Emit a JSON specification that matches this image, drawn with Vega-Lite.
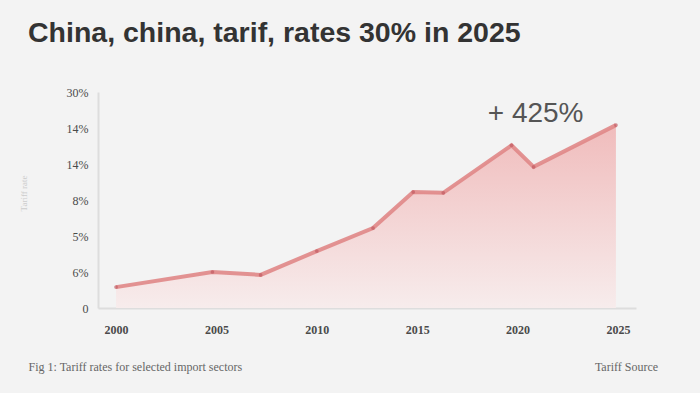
{
  "$schema": "https://vega.github.io/schema/vega-lite/v6.json",
  "width": 538,
  "height": 216,
  "autosize": {"type": "none"},
  "padding": {"left": 98, "top": 92, "right": 64, "bottom": 85},
  "background": "#f3f3f3",
  "title": {
    "text": "China, china, tarif, rates 30% in 2025",
    "anchor": "start",
    "frame": "group",
    "dx": -70,
    "offset": 39,
    "font": "Liberation Sans",
    "fontSize": 28.5,
    "fontWeight": "bold",
    "color": "#333333"
  },
  "config": {
    "view": {"stroke": null},
    "axis": {"grid": false, "ticks": false, "domainColor": "#dddddd", "domainWidth": 2, "labelFont": "Liberation Serif", "labelFontSize": 12, "labelColor": "#4a4a4a", "labelOverlap": false}
  },
  "datasets": {
    "rates": [
      {"year": 2000.0, "rate": 2.9},
      {"year": 2004.8, "rate": 5.0},
      {"year": 2007.2, "rate": 4.6},
      {"year": 2010.0, "rate": 7.9},
      {"year": 2012.8, "rate": 11.1},
      {"year": 2014.8, "rate": 16.1},
      {"year": 2016.3, "rate": 16.0},
      {"year": 2019.7, "rate": 22.6},
      {"year": 2020.8, "rate": 19.6},
      {"year": 2024.9, "rate": 25.4}
    ],
    "notes": [
      {"year": 2020.9, "rate": 27.0, "label": "+ 425%"}
    ]
  },
  "layer": [
    {
      "encoding": {
        "x": {"field": "year", "type": "quantitative", "scale": {"domain": [1999.1, 2025.9], "nice": false, "zero": false},
              "axis": {"values": [2000, 2005, 2010, 2015, 2020, 2025], "format": "d", "labelPadding": 16, "labelOverlap": false, "labelFontWeight": "bold",
                       "title": "Fig 1: Tariff rates for selected import sectors", "titleAnchor": null, "titleAlign": "left", "titleBaseline": "middle",
                       "titleX": -70, "titleY": 58, "titleFont": "Liberation Serif", "titleFontSize": 12, "titleFontWeight": "normal", "titleColor": "#666666"}},
        "y": {"field": "rate", "type": "quantitative", "scale": {"domain": [0, 30], "nice": false},
              "axis": {"values": [0, 5, 10, 15, 20, 25, 30], "labelPadding": 10, "labelOverlap": false,
                       "labelExpr": "datum.value == 0 ? '0' : datum.value == 5 ? '6%' : datum.value == 10 ? '5%' : datum.value == 15 ? '8%' : datum.value == 20 ? '14%' : datum.value == 25 ? '14%' : '30%'",
                       "title": "Tariff rate", "titleX": -70, "titleY": 101, "titleAlign": "center", "titleFont": "Liberation Serif", "titleFontSize": 9, "titleFontWeight": "normal", "titleColor": "#cccccc"}}
      },
      "layer": [
        {
          "data": {"name": "rates"},
          "mark": {
            "type": "area",
            "color": {
              "gradient": "linear", "x1": 0, "y1": 0, "x2": 0, "y2": 1,
              "stops": [{"offset": 0, "color": "#f0bcbc"}, {"offset": 1, "color": "#f7ecec"}]
            }
          }
        },
        {
          "data": {"name": "rates"},
          "mark": {"type": "line", "color": "#e08787", "strokeWidth": 4, "opacity": 0.9}
        },
        {
          "data": {"name": "rates"},
          "mark": {"type": "point", "filled": true, "color": "#c25b63", "size": 14}
        },
        {
          "data": {"name": "notes"},
          "mark": {"type": "text", "font": "Liberation Sans", "fontSize": 28, "color": "#555555", "align": "center", "baseline": "middle"},
          "encoding": {"text": {"field": "label"}}
        }
      ]
    },
    {
      "data": {"name": "notes"},
      "mark": {"type": "text", "opacity": 0},
      "encoding": {
        "x": {"field": "year", "type": "quantitative"},
        "y": {"field": "rate", "type": "quantitative", "scale": {"domain": [0, 30]},
              "axis": {"orient": "right", "domain": false, "labels": false, "ticks": false,
                       "title": "Tariff Source", "titleAngle": 0, "titleX": -10, "titleY": 274, "titleAlign": "center", "titleBaseline": "middle",
                       "titleFont": "Liberation Serif", "titleFontSize": 12, "titleFontWeight": "normal", "titleColor": "#666666"}},
        "text": {"field": "label"}
      }
    }
  ],
  "resolve": {"scale": {"y": "independent"}, "axis": {"y": "independent"}}
}
